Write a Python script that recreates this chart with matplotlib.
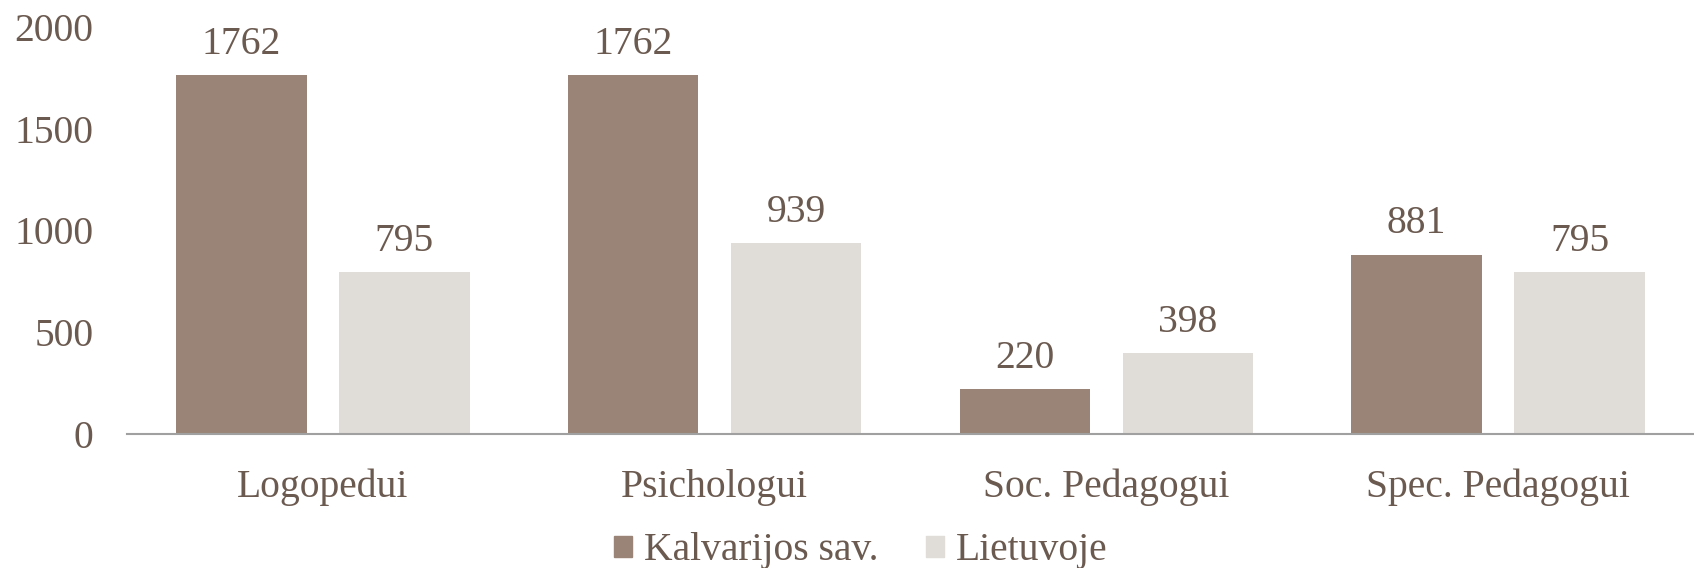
import numpy as np
import matplotlib
matplotlib.use("Agg")
import matplotlib.pyplot as plt
from matplotlib.patches import Patch

categories = ["Logopedui", "Psichologui", "Soc. Pedagogui", "Spec. Pedagogui"]
kalvarija = [1762, 1762, 220, 881]
lietuva = [795, 939, 398, 795]
series_names = ["Kalvarijos sav.", "Lietuvoje"]

txt = "#6B5A50"
dark = "#9A8478"
light = "#E0DCD8"

plt.rcParams["font.family"] = ["Liberation Serif", "DejaVu Serif"]

fig = plt.figure(figsize=(16.94, 5.68), dpi=100)
ax = fig.add_axes([0.075, 0.236, 0.925, 0.7165])

x = np.arange(len(categories))
w = 0.333
off = 0.208
b1 = ax.bar(x - off, kalvarija, w, color=dark)
b2 = ax.bar(x + off, lietuva, w, color=light)

fs = 28.5
for bars, vals in ((b1, kalvarija), (b2, lietuva)):
    for r, v in zip(bars, vals):
        ax.text(r.get_x() + r.get_width() / 2, v + 60, str(v), ha="center",
                va="bottom", fontsize=fs, color=txt)

ax.set_xlim(-0.5, 3.5)
ax.set_ylim(0, 2000)
ax.set_yticks([0, 500, 1000, 1500, 2000])
ax.set_xticks(x)
ax.set_xticklabels(categories)
ax.tick_params(axis="both", length=0, labelsize=fs, colors=txt)
ax.tick_params(axis="y", pad=24)
ax.tick_params(axis="x", pad=25)
for s in ["top", "right", "left"]:
    ax.spines[s].set_visible(False)
ax.spines["bottom"].set_color("#A0A0A0")
ax.spines["bottom"].set_linewidth(1.5)

handles = [Patch(color=dark), Patch(color=light)]
leg = fig.legend(handles, series_names, loc="center", bbox_to_anchor=(0.508, 0.03),
                 ncol=2, frameon=False, fontsize=fs, handlelength=0.45, handleheight=0.45,
                 handletextpad=0.3, columnspacing=1.2, borderpad=0)
for t in leg.get_texts():
    t.set_color(txt)

fig.savefig("out.png", dpi=100)
